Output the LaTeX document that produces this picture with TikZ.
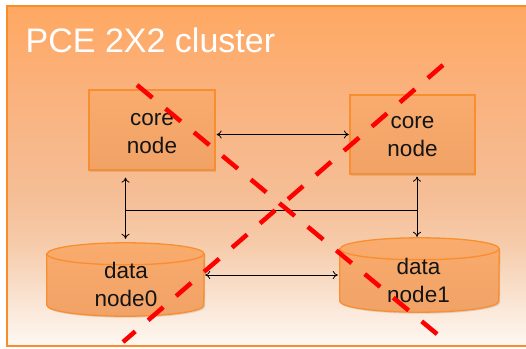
\documentclass[tikz,border=0pt]{standalone}
\usepackage{fontspec}
\setmainfont{Liberation Sans}
\usetikzlibrary{arrows.meta,shadows,calc}
\definecolor{frameborder}{HTML}{FA8C2A}
\definecolor{nodeborder}{HTML}{F98E2E}
\definecolor{bgtop}{HTML}{FFA862}
\definecolor{bgupper}{HTML}{FAB27E}
\definecolor{bgmid}{HTML}{F5BE96}
\definecolor{bglow}{HTML}{F6CBAA}
\definecolor{bglower}{HTML}{FAE6D6}
\definecolor{bgbot}{HTML}{FEF8F2}
\definecolor{nodetop}{HTML}{F9AC6E}
\definecolor{nodemid}{HTML}{F59C55}
\definecolor{nodebot}{HTML}{F1A266}
\definecolor{crossred}{HTML}{FF0000}
\definecolor{textcol}{HTML}{141414}
\pgfdeclareverticalshading{bgshade}{100bp}{color(0bp)=(bgbot); color(25bp)=(bgbot); color(31bp)=(bglower); color(40bp)=(bglow); color(47bp)=(bgmid); color(62bp)=(bgupper); color(75bp)=(bgtop); color(100bp)=(bgtop)}
\tikzset{
  coreframe/.style={draw=nodeborder, line width=1.3pt, top color=nodetop, middle color=nodemid, bottom color=nodebot,
    minimum width=126pt, minimum height=80pt, inner sep=0pt,
    drop shadow={opacity=0.25, shadow xshift=1.2pt, shadow yshift=-1.5pt}},
  datafoot/.style={minimum width=157pt, minimum height=73pt, inner sep=0pt},
  drumbody/.style={draw=nodeborder, line width=1.3pt, top color=nodetop, middle color=nodemid, bottom color=nodebot,
    drop shadow={opacity=0.25, shadow xshift=1.2pt, shadow yshift=-1.5pt}},
  lbl/.style={font=\fontsize{22.5}{28}\selectfont, align=center, text=textcol, inner sep=0pt},
  link/.style={black, line width=0.8pt},
  biarrow/.style={link, {To[length=5pt,width=8pt]}-{To[length=5pt,width=8pt]}},
  crossline/.style={crossred, line width=4.5pt, dash pattern=on 20pt off 17pt}
}
\begin{document}
\begin{tikzpicture}[x=1pt,y=-1pt]
\useasboundingbox (0,0) rectangle (526,348);
\fill[white] (0,0) rectangle (526,348);
% outer cluster frame
\path[shading=bgshade, draw=frameborder, line width=1.8pt] (7,6) rectangle (545,346);
\node[anchor=base west, text=white, font=\fontsize{34}{40}\selectfont, inner sep=0pt] (title) at (25.5,52) {PCE 2X2 cluster};

% core nodes
\node[coreframe] (c0) at (152,130) {};
\node[coreframe, minimum width=125pt, minimum height=79pt] (c1) at (412.5,134.5) {};
\node[lbl] (c0t) at (152,133.3) {core\\node};
\node[lbl] (c1t) at (412.5,136.3) {core\\node};

% data nodes (cylinders)
\node[datafoot] (d0) at (125.5,279.5) {};
\node[datafoot, minimum width=159pt, minimum height=74pt] (d1) at (419.5,275) {};
\foreach \d/\rx in {d0/78.5pt, d1/79.5pt}{
  \path[drumbody] ([yshift=-11pt]\d.north west) -- ([yshift=11pt]\d.south west)
    arc[start angle=180, end angle=360, x radius=\rx, y radius=11pt]
    -- ([yshift=-11pt]\d.north east)
    arc[start angle=0, end angle=180, x radius=\rx, y radius=11pt] -- cycle;
  \draw[nodeborder, line width=1.3pt] ([yshift=-11pt]\d.north west)
    arc[start angle=180, end angle=360, x radius=\rx, y radius=11pt];
}
\node[lbl] (d0t) at (126,284.5) {data\\node0};
\node[lbl] (d1t) at (418.5,280.5) {data\\node1};

% connectors
\draw[biarrow] ([xshift=1pt]c0.east |- c1.west) -- ([xshift=-0.5pt]c1.west);
\draw[biarrow] ([yshift=-7pt]c0.south -| d0.north) -- ([yshift=4pt]d0.north);
\coordinate (r0) at ([xshift=4.5pt,yshift=-2pt]c1.south);
\draw[biarrow] (r0) -- ([yshift=1pt]r0 |- d1.north);
\draw[link] (d0.north |- 0,210) -- (r0 |- 0,210);
\draw[biarrow] ([xshift=1pt]d0.east |- d1.west) -- ([xshift=-2pt]d1.west);

% red dashed cross
\coordinate (x1a) at (137,85);
\coordinate (x1b) at (443,339);
\coordinate (x2a) at (443,65);
\coordinate (x2b) at (123,342);
\draw[crossline] (x1a) -- (x1b);
\draw[crossline] (x2a) -- (x2b);
\end{tikzpicture}
\end{document}
